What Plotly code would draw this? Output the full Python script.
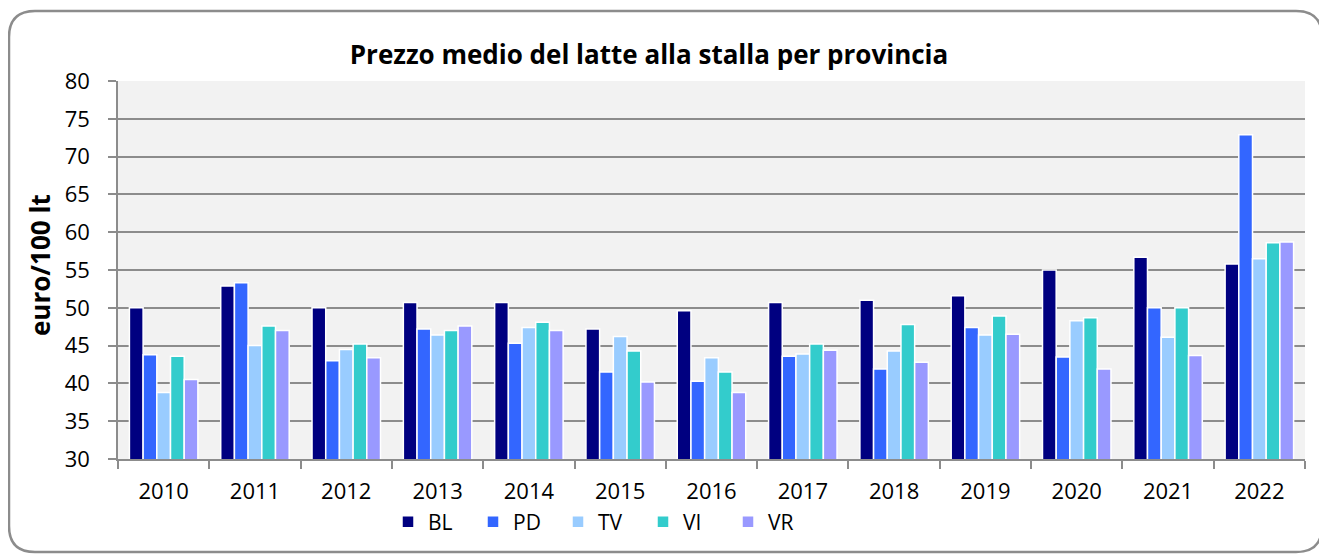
import plotly.graph_objects as go

years = ["2010", "2011", "2012", "2013", "2014", "2015", "2016",
         "2017", "2018", "2019", "2020", "2021", "2022"]
BL = [50.0, 52.9, 50.0, 50.7, 50.7, 47.2, 49.6, 50.7, 51.0, 51.6, 55.0, 56.7, 55.8]
PD = [43.8, 53.3, 43.0, 47.2, 45.3, 41.5, 40.3, 43.6, 41.9, 47.4, 43.5, 50.0, 72.9]
TV = [38.8, 45.0, 44.5, 46.4, 47.4, 46.2, 43.4, 43.9, 44.3, 46.4, 48.3, 46.1, 56.5]
VI = [43.6, 47.6, 45.2, 47.0, 48.1, 44.3, 41.5, 45.2, 47.8, 48.9, 48.7, 50.0, 58.6]
VR = [40.5, 47.0, 43.4, 47.6, 47.0, 40.2, 38.8, 44.4, 42.8, 46.5, 41.9, 43.7, 58.7]

series = [("BL", BL, "#000080"), ("PD", PD, "#3366FF"), ("TV", TV, "#99CCFF"),
          ("VI", VI, "#33CCCC"), ("VR", VR, "#9999FF")]

FONT = "Open Sans"

fig = go.Figure()
for name, vals, col in series:
    fig.add_trace(go.Bar(x=years, y=vals, name=name,
                         marker=dict(color=col, line=dict(color="white", width=1.5))))

# the page body has an 8px margin, so figure pixel coords = screen coords - 8
OFF = 8
W, H = 1327 - OFF, 555 - OFF
L, T = 118 - OFF, 81 - OFF
R = W - (1305 - OFF)
B = H - (459 - OFF)
pw, ph = W - L - R, H - T - B

def px(x):
    """screen pixel x -> paper x"""
    return (x - OFF - L) / pw

def py(y):
    """screen pixel y -> paper y"""
    return (H - B - (y - OFF)) / ph

# rounded border around the whole chart
x0, x1, y0, y1, r = 9, 1322, 11, 552, 26
path = (f"M {px(x0 + r)},{py(y0)} L {px(x1 - r)},{py(y0)} "
        f"Q {px(x1)},{py(y0)} {px(x1)},{py(y0 + r)} "
        f"L {px(x1)},{py(y1 - r)} Q {px(x1)},{py(y1)} {px(x1 - r)},{py(y1)} "
        f"L {px(x0 + r)},{py(y1)} Q {px(x0)},{py(y1)} {px(x0)},{py(y1 - r)} "
        f"L {px(x0)},{py(y0 + r)} Q {px(x0)},{py(y0)} {px(x0 + r)},{py(y0)} Z")

fig.update_layout(
    width=W, height=H,
    margin=dict(l=L, r=R, t=T, b=B),
    paper_bgcolor="white",
    plot_bgcolor="#F2F2F2",
    barmode="group", bargap=0.25, bargroupgap=0,
    font=dict(family=FONT, color="black", size=20),
    title=dict(text="<b>Prezzo medio del latte alla stalla per provincia</b>",
               x=(649 - OFF) / W, xref="container", xanchor="center",
               y=1 - (55 - OFF) / H, yref="container", yanchor="middle",
               font=dict(family=FONT, size=26, color="black")),
    legend=dict(orientation="h", x=px(388), xanchor="left", y=py(522), yanchor="middle",
                font=dict(family=FONT, size=21), entrywidth=40, entrywidthmode="pixels",
                bgcolor="rgba(0,0,0,0)", traceorder="normal"),
    shapes=[dict(type="path", path=path, xref="paper", yref="paper",
                 line=dict(color="#8C8C8C", width=2.5), fillcolor="rgba(0,0,0,0)", layer="below")],
    annotations=[dict(text="<b>euro/100 lt</b>", textangle=-90, xref="paper", yref="paper",
                      x=px(40), y=py(265), xanchor="center", yanchor="middle", showarrow=False,
                      font=dict(family=FONT, size=26, color="black"))],
)
fig.update_xaxes(type="category", tickson="boundaries", ticks="outside", ticklen=8,
                 tickcolor="#8C8C8C", tickwidth=1.5, showline=True, linecolor="#8C8C8C",
                 linewidth=1.5, showgrid=False, ticklabelstandoff=12,
                 tickfont=dict(family=FONT, size=22))
fig.update_yaxes(range=[30, 80], dtick=5, ticks="outside", ticklen=8, tickcolor="#8C8C8C",
                 tickwidth=1.5, showline=True, linecolor="#8C8C8C", linewidth=1.5,
                 gridcolor="#8C8C8C", gridwidth=1.5, zeroline=False, ticklabelstandoff=14,
                 tickfont=dict(family=FONT, size=22))

fig.write_html("out.html")
